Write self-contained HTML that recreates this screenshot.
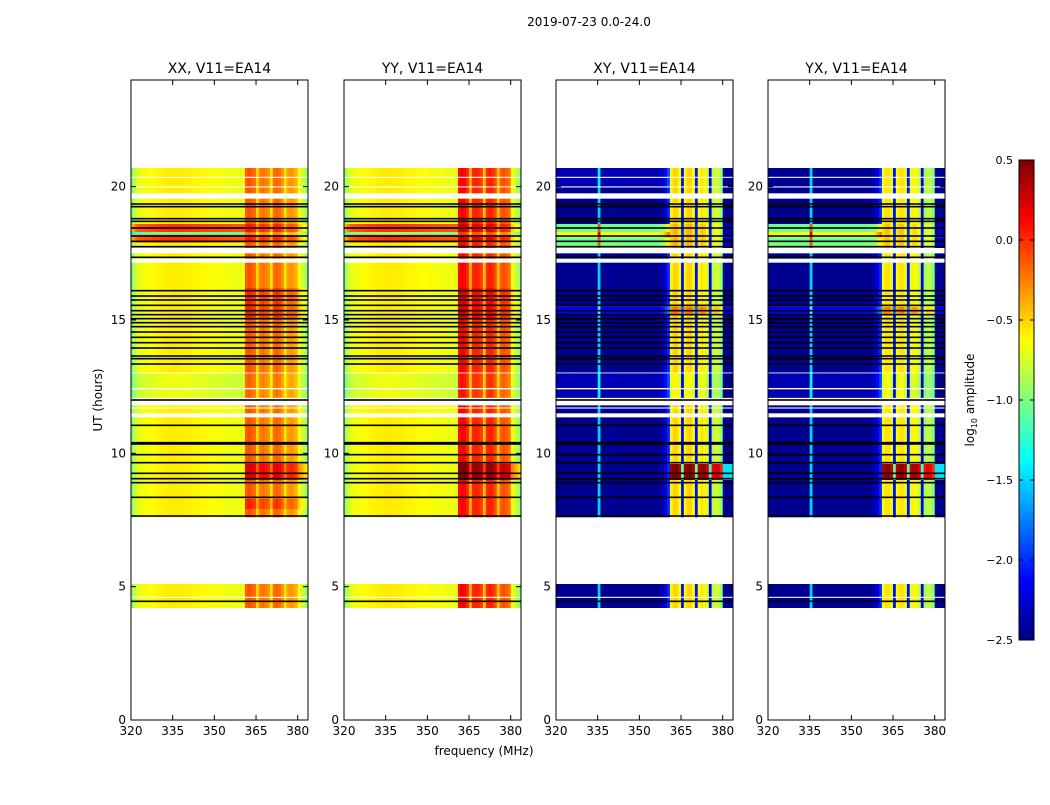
<!DOCTYPE html>
<html><head><meta charset="utf-8"><style>
body{margin:0;background:#fff;}
svg text{font-family:"DejaVu Sans","Liberation Sans",sans-serif;}
</style></head><body>
<svg id="fig" width="1050" height="800" xmlns="http://www.w3.org/2000/svg">
<rect width="1050" height="800" fill="#fff"/>
<text x="589" y="26" font-size="12" text-anchor="middle">2019-07-23 0.0-24.0</text>
<text x="484" y="755" font-size="12" text-anchor="middle">frequency (MHz)</text>
<text x="102" y="400" font-size="12" text-anchor="middle" transform="rotate(-90 102 400)">UT (hours)</text>
<g id="panels"></g>
<g id="cbar"></g>
</svg>
<script>
// ---- data ----
const panelTitles = ["XX, V11=EA14","YY, V11=EA14","XY, V11=EA14","YX, V11=EA14"];
const freqStart = 320;  // first 1 MHz bin
const xTicks = [320,335,350,365,380];
const yTicks = [0,5,10,15,20];
const cbarTicks = [0.5,0.0,-0.5,-1.0,-1.5,-2.0,-2.5];
const profileXX = [-0.95,-0.8,
 -0.7,-0.68,-0.66,-0.65,-0.64,-0.63,-0.62,-0.6,-0.6,-0.59,
 -0.58,-0.58,-0.57,-0.57,-0.57,-0.57,-0.58,-0.58,-0.58,-0.59,
 -0.6,-0.6,-0.6,-0.61,-0.62,-0.62,-0.63,-0.63,-0.64,-0.64,
 -0.65,-0.65,-0.66,-0.66,-0.67,-0.67,-0.68,-0.68,-0.68,
 -0.15,-0.1,-0.15,-0.2,-0.5,-0.25,-0.2,-0.25,-0.3,-0.55,-0.2,-0.15,-0.2,-0.3,-0.55,-0.35,-0.3,-0.35,-0.4,-0.65,-0.75,-0.85,-0.95];
const profileYY = [-0.95,-0.8,
 -0.7,-0.68,-0.66,-0.65,-0.64,-0.63,-0.62,-0.6,-0.6,-0.59,
 -0.58,-0.58,-0.57,-0.57,-0.57,-0.57,-0.58,-0.58,-0.58,-0.59,
 -0.6,-0.6,-0.6,-0.61,-0.62,-0.62,-0.63,-0.63,-0.64,-0.64,
 -0.65,-0.65,-0.66,-0.66,-0.67,-0.67,-0.68,-0.68,-0.68,
 0.1,0.15,0.1,0.0,-0.4,0.0,0.05,0.0,-0.05,-0.45,0.0,0.05,0.0,-0.1,-0.45,-0.15,-0.1,-0.15,-0.2,-0.65,-0.75,-0.85,-0.95];
const profileXY = [-2.45,-2.45,-2.45,-2.45,-2.45,-2.45,-2.45,-2.45,-2.45,-2.45,-2.45,-2.45,-2.45,-2.45,-2.45,
 -1.5,
 -2.45,-2.45,-2.45,-2.4,-2.45,-2.45,-2.45,-2.45,-2.45,-2.45,-2.45,-2.45,-2.45,-2.45,-2.45,-2.45,-2.45,-2.45,-2.45,-2.45,-2.45,-2.4,-2.35,-2.2,-2.0,
 -0.6,-0.5,-0.5,-0.65,-2.1,-0.6,-0.5,-0.5,-0.65,-2.1,-0.65,-0.55,-0.6,-0.75,-2.2,-0.85,-0.75,-0.8,-0.95,-2.45,-2.45,-2.45,-2.45];
const profileYX = [-2.45,-2.45,-2.45,-2.45,-2.45,-2.45,-2.45,-2.45,-2.45,-2.45,-2.45,-2.45,-2.45,-2.45,-2.45,
 -1.5,
 -2.45,-2.45,-2.45,-2.45,-2.45,-2.45,-2.45,-2.45,-2.45,-2.45,-2.45,-2.45,-2.45,-2.45,-2.45,-2.45,-2.45,-2.45,-2.45,-2.45,-2.45,-2.4,-2.35,-2.2,-2.0,
 -0.65,-0.55,-0.55,-0.7,-2.1,-0.65,-0.55,-0.55,-0.7,-2.1,-0.7,-0.6,-0.65,-0.8,-2.2,-0.9,-0.8,-0.85,-1.0,-2.45,-2.45,-2.45,-2.45];
// time coverage [start,end] hours
const dataRanges = [[4.2,5.1],[7.5,20.7]];
// modifier segments: [t0, t1, addBelow361MHz, addAbove361MHz]
const segsXX = [[17.9,18.6,0.55,0.2],[18.2,18.3,-1.0,-0.3],[15.0,16.2,0.0,0.15],[9.0,9.6,0.0,0.35],[7.9,8.3,0.0,0.15],[12.0,13.0,-0.1,-0.05]];
const segsYY = [[17.9,18.6,0.55,0.15],[18.2,18.3,-0.9,-0.3],[15.0,16.2,0.0,0.1],[9.0,9.6,0.0,0.4],[12.0,13.0,-0.1,-0.05]];
const segsXY = [[17.7,18.6,1.4,0.1],[18.1,18.3,0.4,0.0],[15.2,15.5,0.3,0.3],[9.0,9.6,0.0,1.0],[12.0,13.0,0.1,-0.1],[20.0,20.7,0.1,0.0]];
const segsYX = [[17.7,18.6,1.4,0.1],[18.1,18.3,0.4,0.0],[15.2,15.5,0.3,0.3],[9.0,9.6,0.0,1.0],[12.0,13.0,0.1,-0.1]];
// flagged (white) gaps [t0,t1]
const whiteGaps = [[20.33,20.37],[19.97,20.01],[19.55,19.75],[17.5,17.7],[17.15,17.3],[13.0,13.03],[12.4,12.45],[11.8,12.08],[11.68,11.72],[11.35,11.5],[7.5,7.6],[4.58,4.62]];
// black rows (hours)
const blackLines = [19.35,19.25,18.8,18.7,18.45,18.15,17.95,17.75,17.35,16.1,15.9,15.75,15.55,15.35,15.2,15.05,14.9,14.75,14.55,14.35,14.15,13.95,13.65,13.55,13.35,12.0,11.05,10.4,10.35,9.95,9.65,9.25,9.05,8.9,8.35,7.65,4.45];

const profiles=[profileXX,profileYY,profileXY,profileYX];
const segsAll=[segsXX,segsYY,segsXY,segsYX];
const panelX=[131,344,556,768], PW=177, PT=80, PB=720;
const fMin=320, fMax=383.7, tMin=0, tMax=24, vMin=-2.5, vMax=0.5;
const NS="http://www.w3.org/2000/svg";
function el(tag,attrs,parent){const e=document.createElementNS(NS,tag);for(const k in attrs)e.setAttribute(k,attrs[k]);parent.appendChild(e);return e;}
function jet(v){let x=(v-vMin)/(vMax-vMin);x=Math.max(0,Math.min(1,x));
 const r=Math.max(0,Math.min(1,Math.min(4*x-1.5,-4*x+4.5)));
 const g=Math.max(0,Math.min(1,Math.min(4*x-0.5,-4*x+3.5)));
 const b=Math.max(0,Math.min(1,Math.min(4*x+0.5,-4*x+2.5)));
 return `rgb(${Math.round(r*255)},${Math.round(g*255)},${Math.round(b*255)})`;}
const panels=document.getElementById('panels');
for(let p=0;p<4;p++){
 const x0=panelX[p];
 const xs=f=>x0+(f-fMin)/(fMax-fMin)*PW;
 const ys=t=>PB-(t-tMin)/(tMax-tMin)*(PB-PT);
 const g=el('g',{},panels);
 
 
 const segs=segsAll[p], prof=profiles[p];
 const hm=el('g',{},g);
 
 
 dataRanges.forEach(r=>{
  let bnd=[r[0],r[1]];
  segs.forEach(s=>{if(s[0]>r[0]&&s[0]<r[1])bnd.push(s[0]);if(s[1]>r[0]&&s[1]<r[1])bnd.push(s[1]);});
  bnd=[...new Set(bnd)].sort((a,b)=>a-b);
  for(let i=0;i<bnd.length-1;i++){
   const ta=bnd[i],tb=bnd[i+1],tm=(ta+tb)/2;
   let addL=0,addH=0;segs.forEach(s=>{if(tm>s[0]&&tm<s[1]){addL+=s[2];addH+=s[3];}});
   for(let c=0;c<prof.length;c++){
    const f=freqStart+c;const v=prof[c]+(f<361?addL:addH);
    const xa=xs(f),xb=Math.min(xs(f+1),x0+PW);
    const rc=el('rect',{x:xa.toFixed(2),y:ys(tb).toFixed(2),width:(xb-xa+0.4).toFixed(2),height:(ys(ta)-ys(tb)).toFixed(2),fill:jet(v)},hm);
    
    
   }
  }
 });
 whiteGaps.forEach(w=>{const r=el('rect',{x:x0,y:ys(w[1]),width:PW,height:ys(w[0])-ys(w[1]),fill:'#fff'},g);
  
  });
 blackLines.forEach(t=>{const r=el('rect',{x:x0,y:ys(t)-0.8,width:PW,height:1.6,fill:'#000'},g);
  
  });
 const fr=el('rect',{x:x0,y:PT,width:PW,height:PB-PT,fill:'none',stroke:'#000','stroke-width':1},g);
 
 
 const tt=el('text',{x:x0+PW/2,y:PT-7,'font-size':14,'text-anchor':'middle'},g);tt.textContent=panelTitles[p];
 
 
 xTicks.forEach(f=>{const x=xs(f);
  el('line',{x1:x,y1:PB,x2:x,y2:PB-5,stroke:'#000'},g);el('line',{x1:x,y1:PT,x2:x,y2:PT+5,stroke:'#000'},g);
  const t=el('text',{x:x,y:PB+15,'font-size':12,'text-anchor':'middle'},g);t.textContent=f;
  
  });
 yTicks.forEach(v=>{const y=ys(v);
  el('line',{x1:x0,y1:y,x2:x0+5,y2:y,stroke:'#000'},g);el('line',{x1:x0+PW,y1:y,x2:x0+PW-5,y2:y,stroke:'#000'},g);
  const t=el('text',{x:x0-5,y:y+4,'font-size':12,'text-anchor':'end'},g);t.textContent=v;
  
  });
}
// colorbar
const cb=document.getElementById('cbar');
const cx=1019,cw=15,cT=160,cB=640;
const cys=v=>cB-(v-vMin)/(vMax-vMin)*(cB-cT);
for(let i=0;i<120;i++){const v0=vMin+i*(vMax-vMin)/120,v1=vMin+(i+1)*(vMax-vMin)/120;
 const r=el('rect',{x:cx,y:cys(v1),width:cw,height:cys(v0)-cys(v1)+0.5,fill:jet((v0+v1)/2)},cb);
 
 }
el('rect',{x:cx,y:cT,width:cw,height:cB-cT,fill:'none',stroke:'#000'},cb);
cbarTicks.forEach(v=>{const y=cys(v);
 el('line',{x1:cx,y1:y,x2:cx+4,y2:y,stroke:'#000'},cb);el('line',{x1:cx+cw,y1:y,x2:cx+cw-4,y2:y,stroke:'#000'},cb);
 const t=el('text',{x:cx-6,y:y+4,'font-size':11,'text-anchor':'end'},cb);t.textContent=v.toFixed(1).replace('-','\u2212');
 
 });
const cl=el('text',{x:974,y:400,'font-size':12,'text-anchor':'middle',transform:'rotate(-90 974 400)'},cb);


cl.innerHTML='log<tspan font-size="8" dy="3">10</tspan><tspan dy="-3"> amplitude</tspan>';
</script>
</body></html>
